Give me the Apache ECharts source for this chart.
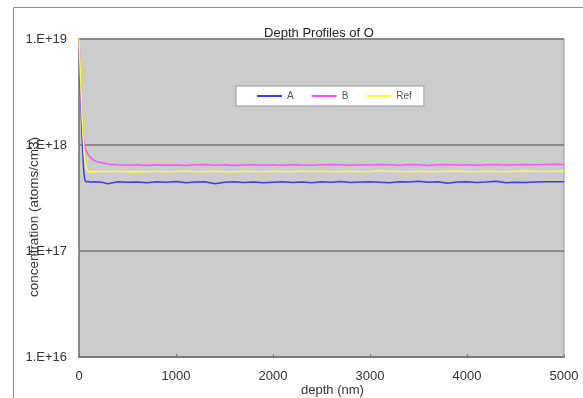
<!DOCTYPE html>
<html>
<head>
<meta charset="utf-8">
<script src="https://cdn.jsdelivr.net/npm/echarts@6/dist/echarts.min.js"></script>
<style>
  html, body { margin: 0; padding: 0; background: #fff; }
  #main { width: 583px; height: 398px; }
</style>
</head>
<body>
<div id="main"></div>
<script>
// depth (nm)
var depth = [0, 10, 20, 30, 40, 50, 60, 70, 80, 90, 100, 125, 150, 200, 250, 300,
  400, 500, 600, 700, 800, 900, 1000, 1100, 1200, 1300, 1400, 1500, 1600, 1700, 1800, 1900,
  2000, 2100, 2200, 2300, 2400, 2500, 2600, 2700, 2800, 2900, 3000, 3100, 3200, 3300, 3400,
  3500, 3600, 3700, 3800, 3900, 4000, 4100, 4200, 4300, 4400, 4500, 4600, 4700, 4800, 4900, 5000];

// concentration (atoms/cm3)
var seriesA = [1e19, 5e18, 2.5e18, 1.3e18, 8e17, 5.5e17, 4.7e17, 4.5e17, 4.55e17, 4.5e17, 4.52e17, 4.45e17, 4.5e17, 4.48e17, 4.42e17, 4.3e17,
  4.5e17, 4.45e17, 4.48e17, 4.4e17, 4.5e17, 4.45e17, 4.52e17, 4.4e17, 4.48e17, 4.5e17, 4.3e17, 4.45e17, 4.5e17, 4.42e17, 4.48e17, 4.4e17,
  4.45e17, 4.5e17, 4.42e17, 4.48e17, 4.4e17, 4.5e17, 4.45e17, 4.52e17, 4.42e17, 4.48e17, 4.5e17, 4.45e17, 4.4e17, 4.5e17, 4.48e17,
  4.55e17, 4.45e17, 4.5e17, 4.35e17, 4.48e17, 4.5e17, 4.42e17, 4.48e17, 4.55e17, 4.4e17, 4.45e17, 4.42e17, 4.48e17, 4.5e17, 4.5e17, 4.5e17];
var seriesB = [1e19, 6e18, 3.5e18, 2.2e18, 1.4e18, 1.05e18, 9.5e17, 9e17, 8.6e17, 8.2e17, 7.9e17, 7.5e17, 7.2e17, 6.9e17, 6.75e17, 6.6e17,
  6.5e17, 6.45e17, 6.5e17, 6.4e17, 6.5e17, 6.45e17, 6.48e17, 6.4e17, 6.5e17, 6.55e17, 6.45e17, 6.5e17, 6.42e17, 6.48e17, 6.5e17, 6.45e17,
  6.5e17, 6.45e17, 6.52e17, 6.48e17, 6.45e17, 6.5e17, 6.55e17, 6.5e17, 6.45e17, 6.5e17, 6.48e17, 6.55e17, 6.5e17, 6.45e17, 6.55e17,
  6.5e17, 6.42e17, 6.5e17, 6.55e17, 6.48e17, 6.52e17, 6.45e17, 6.5e17, 6.55e17, 6.48e17, 6.52e17, 6.55e17, 6.5e17, 6.55e17, 6.6e17, 6.55e17];
var seriesRef = [1e19, 6e18, 3.5e18, 2e18, 1.3e18, 9e17, 7e17, 6.2e17, 5.9e17, 5.7e17, 5.6e17, 5.55e17, 5.6e17, 5.65e17, 5.6e17, 5.62e17,
  5.65e17, 5.6e17, 5.62e17, 5.58e17, 5.65e17, 5.6e17, 5.62e17, 5.68e17, 5.6e17, 5.62e17, 5.65e17, 5.6e17, 5.58e17, 5.65e17, 5.62e17, 5.6e17,
  5.65e17, 5.62e17, 5.6e17, 5.68e17, 5.62e17, 5.65e17, 5.6e17, 5.62e17, 5.65e17, 5.6e17, 5.62e17, 5.7e17, 5.65e17, 5.62e17, 5.6e17,
  5.65e17, 5.62e17, 5.6e17, 5.65e17, 5.68e17, 5.62e17, 5.6e17, 5.65e17, 5.62e17, 5.6e17, 5.65e17, 5.7e17, 5.65e17, 5.62e17, 5.65e17, 5.65e17];

var yTicks = ['1.E+16', '1.E+17', '1.E+18', '1.E+19'];

function pairs(vals) {
  return depth.map(function (d, i) { return [d, vals[i]]; });
}

var myChart = echarts.init(document.getElementById('main'));
var option = {
  animation: false,
  backgroundColor: '#fff',
  textStyle: { fontFamily: 'Liberation Sans, Arial, sans-serif' },
  graphic: [{
    type: 'rect',
    shape: { x: 13.5, y: 7.5, width: 620, height: 420 },
    style: { fill: 'none', stroke: '#8c8c8c', lineWidth: 1 },
    silent: true
  }],
  title: {
    text: 'Depth Profiles of O',
    left: 314, top: 22, textAlign: 'center',
    textStyle: { fontSize: 13, fontWeight: 'normal', color: '#222' }
  },
  legend: {
    left: 236, top: 86,
    padding: [5, 12, 5, 21],
    backgroundColor: '#fff',
    borderColor: '#999',
    borderWidth: 1,
    icon: 'rect',
    itemWidth: 25, itemHeight: 2,
    itemGap: 18,
    textStyle: { fontSize: 10, color: '#555' },
    data: ['A', 'B', 'Ref']
  },
  grid: {
    left: 79, right: 19, top: 39, bottom: 41,
    outerBoundsMode: 'none',
    show: true, backgroundColor: '#cccccc', borderColor: '#9a9a9a', borderWidth: 1
  },
  xAxis: {
    type: 'value', min: 0, max: 5000, interval: 1000,
    name: 'depth (nm)', nameLocation: 'middle', nameGap: 27, nameMoveOverlap: false,
    nameTextStyle: { fontSize: 13, color: '#333', padding: [0, 0, 0, 22] },
    axisLine: { lineStyle: { color: '#777', width: 1.5 } },
    axisTick: { inside: true, length: 3, lineStyle: { color: '#777' } },
    axisLabel: { margin: 13, fontSize: 13, color: '#333', formatter: function (v) { return String(v); } },
    splitLine: { show: false }
  },
  yAxis: {
    type: 'log', logBase: 10, min: 1e16, max: 1e19,
    name: 'concentration (atoms/cm3)', nameLocation: 'middle', nameGap: 38, nameMoveOverlap: false,
    nameRotate: 90,
    nameTextStyle: { fontSize: 13.5, color: '#333', padding: [0, 38, 0, 0] },
    axisLine: { show: true, lineStyle: { color: '#777', width: 1.5 } },
    axisTick: { show: false },
    axisLabel: {
      margin: 12, fontSize: 13, color: '#333', padding: [4, 0, 0, 0],
      formatter: function (v) {
        var e = Math.round(Math.log(v) / Math.LN10);
        return yTicks[e - 16];
      }
    },
    splitLine: { show: true, lineStyle: { color: '#777', width: 1.5 } }
  },
  series: [
    { name: 'A', type: 'line', showSymbol: false, symbol: 'none', data: pairs(seriesA),
      lineStyle: { color: '#3a3ee6', width: 1.5 }, itemStyle: { color: '#3a3ee6' } },
    { name: 'B', type: 'line', showSymbol: false, symbol: 'none', data: pairs(seriesB),
      lineStyle: { color: '#ff4cff', width: 1.5 }, itemStyle: { color: '#ff4cff' } },
    { name: 'Ref', type: 'line', showSymbol: false, symbol: 'none', data: pairs(seriesRef),
      lineStyle: { color: '#ffff33', width: 1.5 }, itemStyle: { color: '#ffff33' } }
  ]
};
myChart.setOption(option);
</script>
</body>
</html>
